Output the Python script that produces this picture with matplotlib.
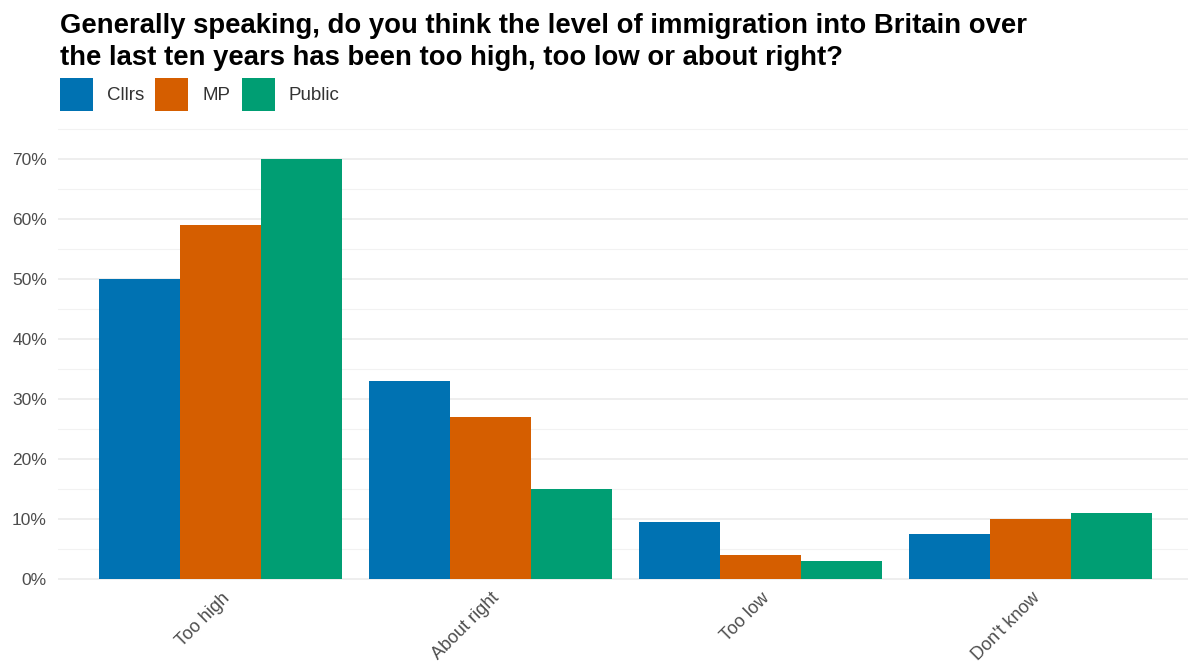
import matplotlib
matplotlib.use("Agg")
import matplotlib.pyplot as plt
import matplotlib.transforms as mtransforms
import numpy as np

plt.rcParams['font.family'] = ['Liberation Sans', 'DejaVu Sans']

categories = ["Too high", "About right", "Too low", "Don't know"]
groups = ["Cllrs", "MP", "Public"]
cllrs = [50, 33, 9.5, 7.5]
mp = [59, 27, 4, 10]
public = [70, 15, 3, 11]
colors = ["#0072B2", "#D55E00", "#009E73"]

fig = plt.figure(figsize=(11.88, 6.63), dpi=100)
ax = fig.add_axes([58 / 1188, 77 / 663, 1130 / 1188, 458 / 663])

x = np.arange(1, len(categories) + 1)
w = 0.3
for i, (vals, col, name) in enumerate(zip([cllrs, mp, public], colors, groups)):
    ax.bar(x + (i - 1) * w, vals, width=w, color=col, label=name, zorder=3)

ax.set_xlim(0.4, 4.585)
ax.set_ylim(-1.2, 75.2)
ax.set_yticks(range(0, 80, 10))
ax.set_yticklabels([f"{v}%" if v <= 70 else "" for v in range(0, 80, 10)])
ax.set_yticks(range(5, 80, 10), minor=True)
ax.yaxis.grid(True, which='major', color='#ebebeb', linewidth=1.2, zorder=0)
ax.yaxis.grid(True, which='minor', color='#f2f2f2', linewidth=0.8, zorder=0)
ax.set_xticks(x)
ax.set_xticklabels(categories, rotation=45, ha='right', va='center',
                   rotation_mode='anchor', fontsize=13)
ax.tick_params(axis='both', which='both', length=0, labelcolor='#4d4d4d')
ax.tick_params(axis='y', pad=8, labelsize=12.5)
ax.tick_params(axis='x', pad=7)
# nudge the rotated labels to the right a touch
shift = mtransforms.ScaledTranslation(7 / 100, 0, fig.dpi_scale_trans)
for lbl in ax.get_xticklabels():
    lbl.set_transform(lbl.get_transform() + shift)
for s in ax.spines.values():
    s.set_visible(False)

fig.text(60 / 1188, 1 - 13 / 663,
         "Generally speaking, do you think the level of immigration into Britain over\n"
         "the last ten years has been too high, too low or about right?",
         fontsize=19.8, fontweight='bold', va='top', ha='left', linespacing=1.28)

fig.legend(loc='upper left', bbox_to_anchor=(43 / 1188, 1 - 61 / 663), ncol=3,
           frameon=False, fontsize=13.5, handlelength=1.76, handleheight=2.37,
           handletextpad=0.75, columnspacing=0.6, labelcolor='#333333')

fig.savefig("out.png", dpi=100)
